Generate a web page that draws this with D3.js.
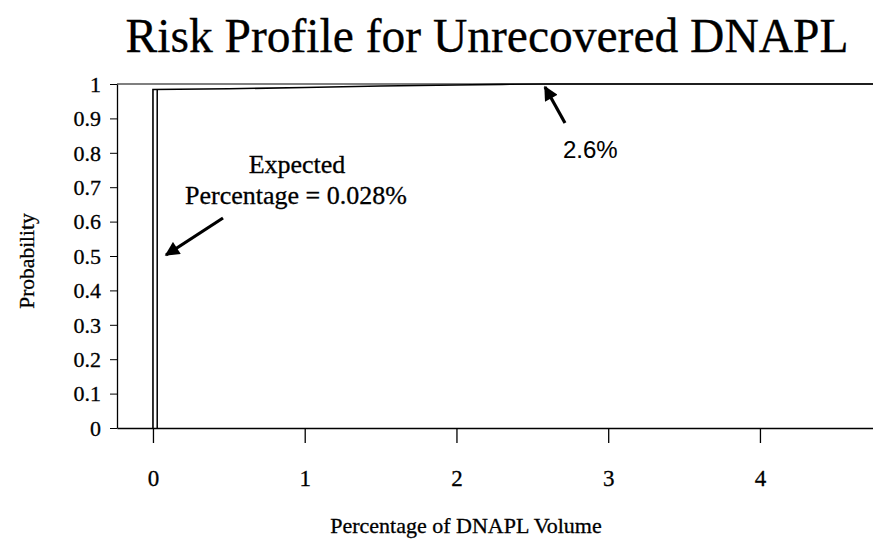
<!DOCTYPE html>
<html>
<head>
<meta charset="utf-8">
<script src="https://cdn.jsdelivr.net/npm/d3@7"></script>
<style>
  body { margin: 0; background: #fff; }
  text { font-family: "Liberation Serif", "Times New Roman", serif; fill: #000; stroke: #000; stroke-width: 0.3px; }
</style>
</head>
<body>
<div class="riskchart"></div>
<script>
// cumulative risk profile
let pctVolume   = [0, 0, 0.5, 1.0, 1.5, 2.0, 2.3, 2.6, 4.75];
let probability = [0, 0.984, 0.986, 0.99, 0.994, 0.997, 0.999, 1.0, 1.0];
let expectedPct = 0.028;
let expectedTop = 0.985;
let xTicks = [0, 1, 2, 3, 4];
let yTicks = [0, 0.1, 0.2, 0.3, 0.4, 0.5, 0.6, 0.7, 0.8, 0.9, 1];

let data = pctVolume.map((d, i) => ({pct: d, prob: probability[i]}));

let W = 873, H = 540;
let margin = {top: 84, right: 0, bottom: 112, left: 117};
let width = W - margin.left - margin.right,
    height = H - margin.top - margin.bottom;

let svg = d3.select(".riskchart").append("svg")
    .attr("width", W)
    .attr("height", H);

let g = svg.append("g")
    .attr("transform", "translate(" + margin.left + "," + margin.top + ")");

const xScale = d3.scaleLinear()
    .range([0, width])
    .domain([-0.237, 4.745]);

const yScale = d3.scaleLinear()
    .range([height, 0])
    .domain([0, 1]);

// title
svg.append("text")
    .attr("x", 487).attr("y", 52)
    .attr("text-anchor", "middle")
    .style("font-size", "47.5px")
    .text("Risk Profile for Unrecovered DNAPL");

// gridline at 1
g.append("line")
    .attr("x1", 0).attr("x2", width)
    .attr("y1", yScale(1)).attr("y2", yScale(1))
    .attr("stroke", "#000").attr("stroke-width", 1.2);

// y axis
let yAxis = g.append("g")
    .call(d3.axisLeft(yScale).tickValues(yTicks).tickSize(7).tickSizeOuter(0)
        .tickFormat(d => d === 0 || d === 1 ? d3.format("d")(d) : d3.format(".1f")(d)));
yAxis.select(".domain").attr("stroke-width", 1.3);
yAxis.selectAll("text").style("font-size", "22px").attr("x", -16).attr("dy", "0.33em");

// x axis
let xAxis = g.append("g")
    .attr("transform", `translate(0, ${height})`)
    .call(d3.axisBottom(xScale).tickValues(xTicks).tickSize(15).tickSizeOuter(0)
        .tickFormat(d3.format("d")));
xAxis.select(".domain").attr("stroke-width", 1.3);
xAxis.selectAll("line").attr("stroke-width", 1.3);
xAxis.selectAll("text").style("font-size", "23px").attr("y", 42);

// axis titles
svg.append("text")
    .attr("transform", "translate(34," + 261 + ") rotate(-90)")
    .attr("text-anchor", "middle")
    .style("font-size", "21.5px")
    .text("Probability");

svg.append("text")
    .attr("x", 466).attr("y", 533)
    .attr("text-anchor", "middle")
    .style("font-size", "22px")
    .text("Percentage of DNAPL Volume");

// expected value line
g.append("line")
    .attr("x1", xScale(expectedPct)).attr("x2", xScale(expectedPct))
    .attr("y1", yScale(0)).attr("y2", yScale(expectedTop))
    .attr("stroke", "#000").attr("stroke-width", 1.5);

// cumulative curve
g.append("path")
    .datum(data)
    .attr("fill", "none")
    .attr("stroke", "#000")
    .attr("stroke-width", 1.6)
    .attr("d", d3.line()
        .x(function(d) { return xScale(d.pct) })
        .y(function(d) { return yScale(d.prob) }));

// annotations
let defs = svg.append("defs");
defs.append("marker")
    .attr("id", "head")
    .attr("viewBox", "0 0 10 10")
    .attr("refX", 9).attr("refY", 5)
    .attr("markerWidth", 5).attr("markerHeight", 4.5)
    .attr("markerUnits", "strokeWidth")
    .attr("orient", "auto")
    .append("path").attr("d", "M0,0L10,5L0,10z").attr("fill", "#000");

svg.append("line")
    .attr("x1", 223).attr("y1", 218).attr("x2", 166).attr("y2", 255)
    .attr("stroke", "#000").attr("stroke-width", 3.2)
    .attr("marker-end", "url(#head)");

svg.append("line")
    .attr("x1", 565).attr("y1", 123).attr("x2", 545).attr("y2", 87)
    .attr("stroke", "#000").attr("stroke-width", 3.2)
    .attr("marker-end", "url(#head)");

svg.append("text")
    .attr("x", 297).attr("y", 173)
    .attr("text-anchor", "middle")
    .style("font-size", "26px")
    .text("Expected");
svg.append("text")
    .attr("x", 296).attr("y", 204)
    .attr("text-anchor", "middle")
    .style("font-size", "26px")
    .text("Percentage = 0.028%");

svg.append("text")
    .attr("x", 563).attr("y", 158)
    .style("font-family", "'Liberation Sans', Arial, sans-serif")
    .style("font-size", "24px")
    .style("stroke-width", "0.1px")
    .text("2.6%");
</script>
</body>
</html>
